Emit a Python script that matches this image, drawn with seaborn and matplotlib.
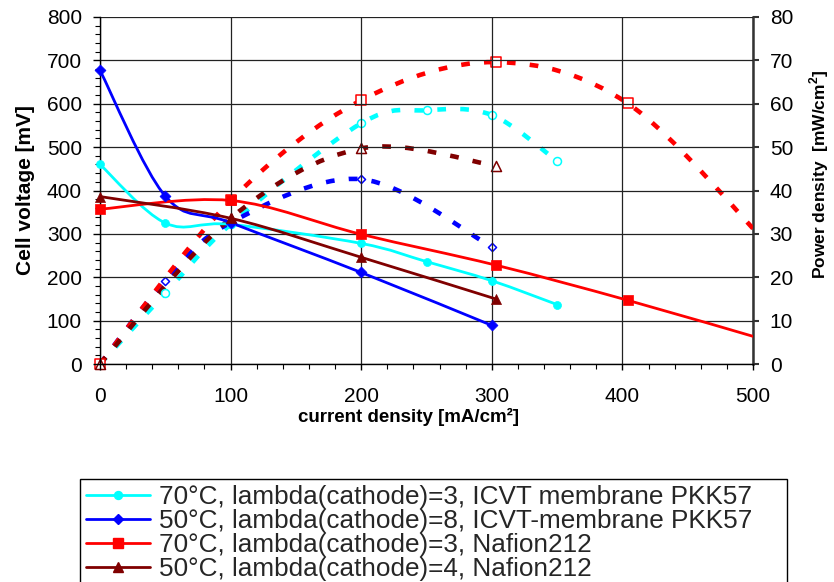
import numpy as np
import pandas as pd
import matplotlib
matplotlib.use("Agg")
import matplotlib.pyplot as plt
from matplotlib.path import Path
from matplotlib.patches import PathPatch
from matplotlib.lines import Line2D
from matplotlib.ticker import MultipleLocator
import seaborn as sns

# Stil
sns.set_theme(style="white")
plt.rcParams["font.family"] = ["Liberation Sans", "DejaVu Sans"]
plt.rcParams["mathtext.fontset"] = "custom"
plt.rcParams["mathtext.rm"] = "Liberation Sans"
plt.rcParams["mathtext.bf"] = "Liberation Sans:bold"

# --- data ---
# x = current density [mA/cm2], v = cell voltage [mV], p = power density [mW/cm2]
cyan_x = [0, 50, 100, 200, 250, 300, 350]
cyan_v = [460, 325, 322, 278, 236, 192, 137]
cyan_p = [0, 16.3, 32.2, 55.5, 58.5, 57.4, 46.8]

blue_x = [0, 50, 100, 200, 300]
blue_v = [677, 387, 326, 211, 89]
blue_p = [0, 19.2, 32.6, 42.6, 27.0]

red_x = [0, 100, 200, 303, 404, 510]
red_v = [357, 377, 299, 228, 147, 55]
red_p = [0, 37.7, 60.8, 69.6, 60.1, 28.0]

dred_x = [0, 100, 200, 303]
dred_v = [386, 336, 246, 150]
dred_p = [0, 33.6, 49.7, 45.7]

labels = [
    "70°C, lambda(cathode)=3, ICVT membrane PKK57",
    "50°C, lambda(cathode)=8, ICVT-membrane PKK57",
    "70°C, lambda(cathode)=3, Nafion212",
    "50°C, lambda(cathode)=4, Nafion212",
]
colors = ["#00FFFF", "#0000FF", "#FF0000", "#800000"]
markers = ["o", "D", "s", "^"]
sizes = [33, 31, 42, 52]
open_sizes = [33, 17, 42, 52]

series = [
    (cyan_x, cyan_v, cyan_p),
    (blue_x, blue_v, blue_p),
    (red_x, red_v, red_p),
    (dred_x, dred_v, dred_p),
]


def smooth_path(x, y):
    # Excel-like smoothed line: cubic bezier through the points
    pts = np.column_stack([x, y]).astype(float)
    n = len(pts)
    verts = [pts[0]]
    codes = [Path.MOVETO]
    for i in range(n - 1):
        p0 = pts[max(i - 1, 0)]
        p1 = pts[i]
        p2 = pts[i + 1]
        p3 = pts[min(i + 2, n - 1)]
        verts += [p1 + (p2 - p0) / 6, p2 - (p3 - p1) / 6, p2]
        codes += [Path.CURVE4] * 3
    return Path(verts, codes)


fig = plt.figure(figsize=(8.34, 5.82), dpi=100)
fig.subplots_adjust(left=100 / 834, right=753 / 834, bottom=1 - 364 / 582, top=1 - 17 / 582)
ax = fig.add_subplot(111)
ax2 = ax.twinx()
# voltage axis drawn above the power axis
ax.set_zorder(2)
ax2.set_zorder(1)
ax.patch.set_visible(False)

for (x, v, p), c, m, s, so in zip(series, colors, markers, sizes, open_sizes):
    df = pd.DataFrame({"x": x, "v": v, "p": p})
    vis = df[df["x"] <= 500]

    ax.add_patch(PathPatch(smooth_path(df["x"], df["v"]), fill=False, edgecolor=c,
                           lw=2.0, zorder=3, capstyle="round", joinstyle="round"))
    sns.scatterplot(data=vis, x="x", y="v", marker=m, s=s, color=c, edgecolor=c,
                    linewidth=0.5, ax=ax, zorder=4, clip_on=False, legend=False)

    ax2.add_patch(PathPatch(smooth_path(df["x"], df["p"]), fill=False, edgecolor=c,
                            lw=3.3, linestyle=(0, (1.9, 3.1)), capstyle="butt", zorder=3))
    sns.scatterplot(data=vis, x="x", y="p", marker=m, s=so, facecolor="white",
                    edgecolor=c, linewidth=1.1, ax=ax2, zorder=4, clip_on=False, legend=False)

# axes
ax.set_xlim(0, 500)
ax.set_ylim(0, 800)
ax2.set_ylim(0, 80)
ax.xaxis.set_major_locator(MultipleLocator(100))
ax.xaxis.set_minor_locator(MultipleLocator(20))
ax.yaxis.set_major_locator(MultipleLocator(100))
ax.yaxis.set_minor_locator(MultipleLocator(20))
ax2.yaxis.set_major_locator(MultipleLocator(10))

ax.set_axisbelow(True)
ax.grid(True, which="major", color="#222222", lw=0.9)
ax.grid(False, which="minor")
ax2.grid(False)

for name, sp in ax.spines.items():
    sp.set_visible(name in ("left", "bottom"))
    sp.set_color("black")
    sp.set_linewidth(1.0)
for name, sp in ax2.spines.items():
    sp.set_visible(name == "right")
ax2.spines["right"].set_color("#333333")
ax2.spines["right"].set_linewidth(1.8)

ax.tick_params(axis="y", which="major", direction="out", length=5, width=1, pad=8,
               labelsize=15, left=True, colors="black")
ax.tick_params(axis="y", which="minor", direction="out", length=3.5, width=0.8, left=True,
               color="black")
ax.tick_params(axis="x", which="major", direction="out", length=4.5, width=1, pad=12,
               labelsize=15, bottom=True, colors="black")
ax.tick_params(axis="x", which="minor", direction="out", length=3.5, width=0.8, bottom=True,
               color="black")
ax2.tick_params(axis="y", which="major", direction="out", length=4, width=1.5, pad=8,
                labelsize=15, right=True, color="#333333", labelcolor="black")

ax.set_xlabel("current density [mA/cm²]", fontsize=13.5, fontweight="bold", color="black")
ax.set_ylabel("Cell voltage [mV]", fontsize=15, fontweight="bold", color="black")
ax2.set_ylabel(r"Power density  [mW/cm$^{\mathbf{2}}$]", fontsize=12.5, fontweight="bold",
               color="black")
ax.xaxis.set_label_coords(0.473, -0.127)
ax.yaxis.set_label_coords(-0.10, 0.5)
ax2.yaxis.set_label_coords(1.083, 0.548)

handles = [Line2D([], [], color=c, marker=m, lw=2.0, markersize=np.sqrt(s),
                  markeredgecolor=c) for c, m, s in zip(colors, markers, sizes)]
leg = fig.legend(handles, labels, loc="upper left",
                 bbox_to_anchor=(80 / 834, 1 - 479 / 582, (787 - 80) / 834, 0),
                 mode="expand", fontsize=18.8, frameon=True, fancybox=False, framealpha=1,
                 edgecolor="black", borderpad=0.22, labelspacing=0.0, handlelength=2.45,
                 handletextpad=0.35, borderaxespad=0)
leg.get_frame().set_linewidth(1.0)

fig.savefig("out.png", dpi=100)
